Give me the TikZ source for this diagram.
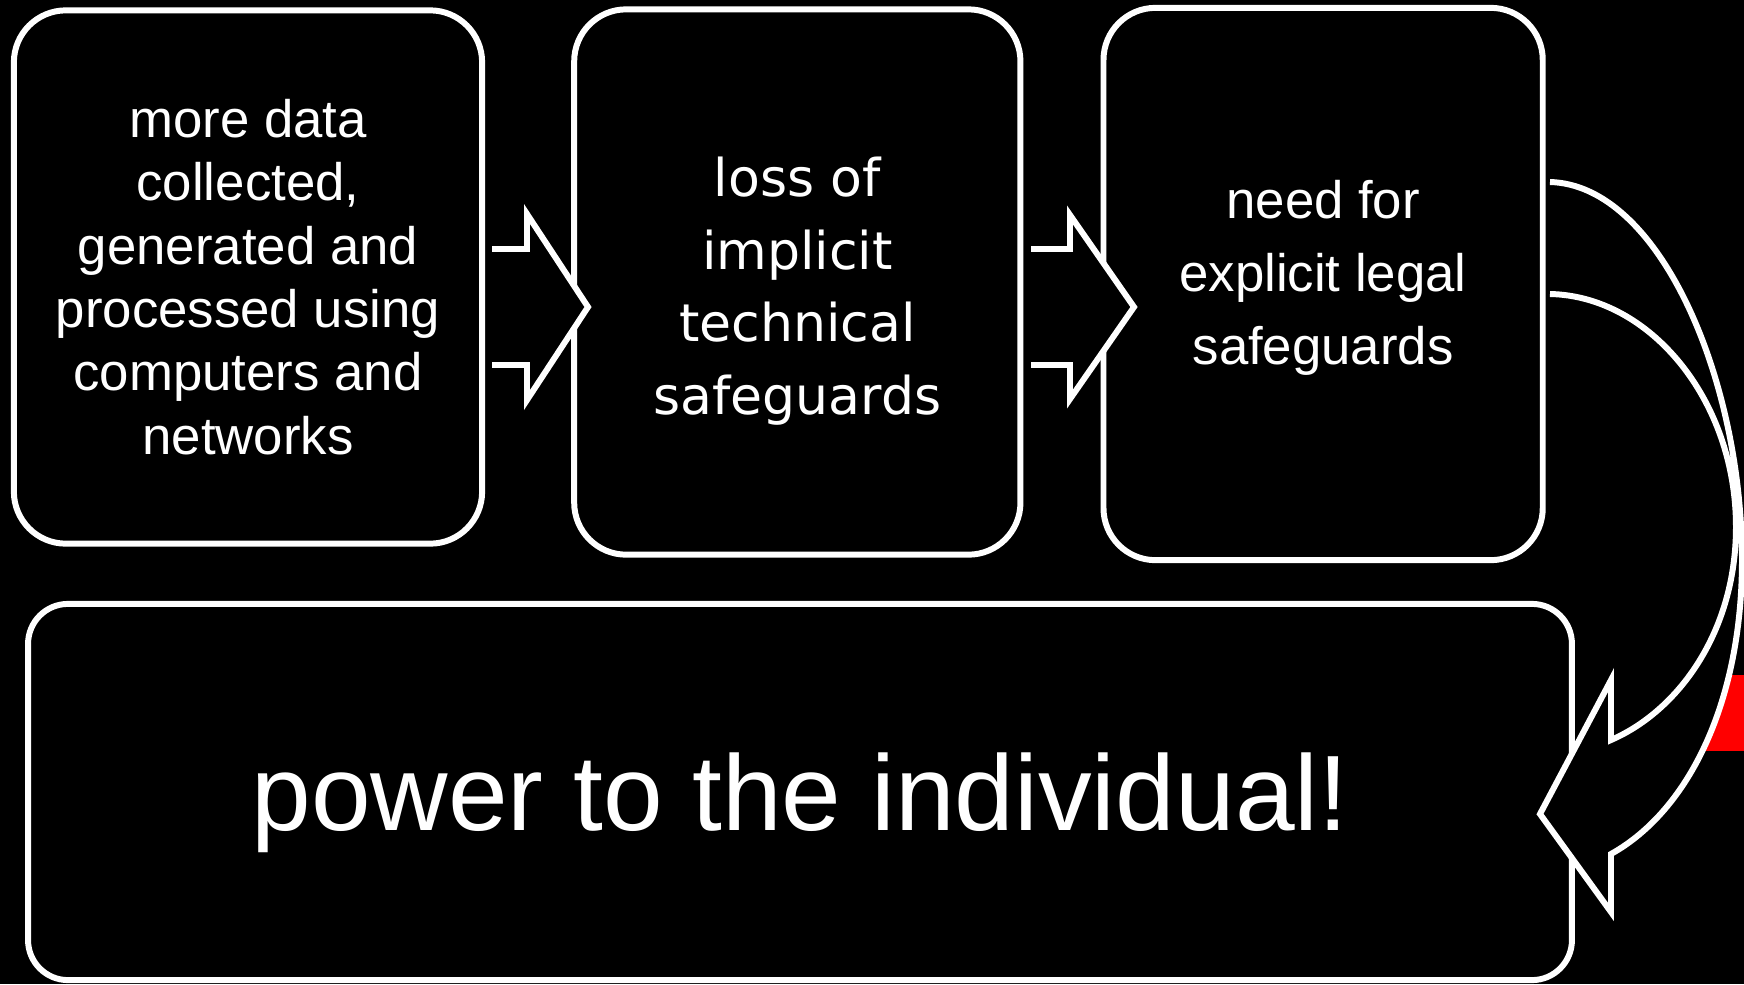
\documentclass[tikz,border=0pt]{standalone}
\usepackage{fontspec}
\setmainfont{Liberation Sans}
\newfontfamily\dejavu{DejaVu Sans}
\usetikzlibrary{positioning}

\begin{document}
\begin{tikzpicture}[x=0.01cm,y=-0.01cm,line width=1.7pt,
	box node/.style={draw=white,fill=black,rounded corners=0.52cm,inner sep=0pt,outer sep=0pt},
	text node/.style={text=white,align=center,inner sep=0pt},
	block arrow/.style={draw=white,fill=black,line join=miter}]

	\path[use as bounding box,fill=black] (0,0) rectangle (1744,984);
	\fill[red] (1690,675) rectangle (1744,751);

	\node[box node,minimum width=4.68cm,minimum height=5.33cm] (data) at (248,277) {};
	\node[box node,minimum width=4.46cm,minimum height=5.45cm] (loss) [right=0.92cm of data,yshift=-0.05cm] {};
	\node[box node,minimum width=4.39cm,minimum height=5.52cm] (need) [right=0.83cm of loss,yshift=-0.02cm] {};
	\node[box node,rounded corners=0.4cm,minimum width=15.43cm,minimum height=3.76cm] (power) at (800,792) {};

	\node[text node,font=\fontsize{15}{18}\selectfont] (data text) at (data) {more data\\collected,\\generated and\\processed using\\computers and\\networks};
	\node[text node,font=\dejavu\fontsize{14.8}{20.6}\selectfont,yshift=-0.09cm] (loss text) at (loss) {loss of\\implicit\\technical\\safeguards};
	\node[text node,font=\fontsize{15}{20.7}\selectfont,yshift=0.06cm] (need text) at (need) {need for\\explicit legal\\safeguards};
	\node[text node,font=\fontsize{30.5}{36}\selectfont,yshift=-0.11cm] (power text) at (power) {power to the individual!};

	\coordinate (a1) at (492,307);
	\coordinate (a2) at (1031,307);
	\path[block arrow,shift={(a1)}] (0,-58) -- (35,-58) -- (35,-93) -- (96,0) -- (35,93) -- (35,58) -- (0,58);
	\path[block arrow,shift={(a2)}] (0,-58) -- (39,-58) -- (39,-92) -- (103,0) -- (39,92) -- (39,58) -- (0,58);

	% curved arrow back to the bottom box
	\path[block arrow] (1550,182) .. controls (1660,185) and (1742,380) .. (1742,560)
		.. controls (1742,700) and (1690,810) .. (1611,854) -- (1611,912) -- (1540,814)
		-- (1611,680) -- (1611,740) .. controls (1680,710) and (1736,630) .. (1736,527)
		.. controls (1736,400) and (1650,296) .. (1550,294);
\end{tikzpicture}
\end{document}
